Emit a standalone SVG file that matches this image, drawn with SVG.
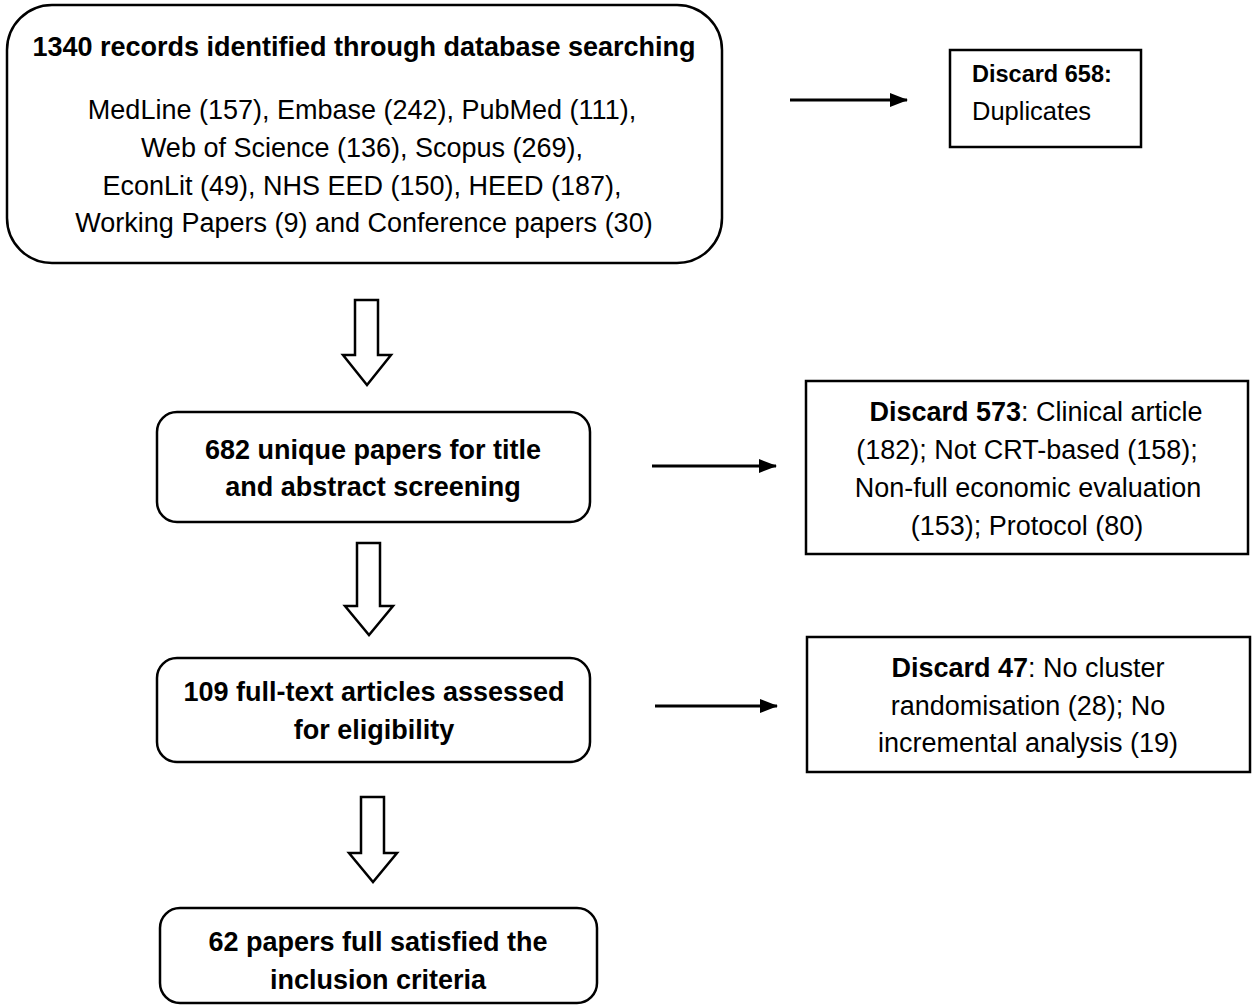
<svg xmlns="http://www.w3.org/2000/svg" width="1254" height="1005" viewBox="0 0 1254 1005">
<defs>
<marker id="ah" markerWidth="18" markerHeight="14" refX="17" refY="7" orient="auto" markerUnits="userSpaceOnUse">
<path d="M0,0 L18,7 L0,14 Z" fill="#000"/>
</marker>
<style>
.box{fill:#fff;stroke:#000;stroke-width:2.5}
.t{font-family:"Liberation Sans",Arial,sans-serif;font-size:27px;fill:#000;text-anchor:middle}
.b{font-weight:bold}
.ln{stroke:#000;stroke-width:3;fill:none}
.blk{fill:#fff;stroke:#000;stroke-width:2.5;stroke-linejoin:miter}
</style>
</defs>
<rect width="1254" height="1005" fill="#fff"/>
<g id="records">
<rect class="box" x="7" y="5" width="715" height="258" rx="45"/>
<text class="t b" x="364" y="56">1340 records identified through database searching</text>
<text class="t" x="362" y="119">MedLine (157), Embase (242), PubMed (111),</text>
<text class="t" x="362" y="157">Web of Science (136), Scopus (269),</text>
<text class="t" x="362" y="195">EconLit (49), NHS EED (150), HEED (187),</text>
<text class="t" x="364" y="232">Working Papers (9) and Conference papers (30)</text>
</g>
<g id="discard658">
<rect class="box" x="950" y="50" width="191" height="97"/>
<text class="t b" x="972" y="82" style="text-anchor:start;font-size:23.5px">Discard 658:</text>
<text class="t" x="972" y="120" style="text-anchor:start;font-size:25.5px">Duplicates</text>
</g>
<g id="screening">
<rect class="box" x="157" y="412" width="433" height="110" rx="20"/>
<text class="t b" x="373" y="459">682 unique papers for title</text>
<text class="t b" x="373" y="496">and abstract screening</text>
</g>
<g id="discard573">
<rect class="box" x="806" y="381" width="442" height="173"/>
<text class="t" x="1036" y="421"><tspan class="b">Discard 573</tspan>: Clinical article</text>
<text class="t" x="1027" y="459">(182); Not CRT-based (158);</text>
<text class="t" x="1028" y="497">Non-full economic evaluation</text>
<text class="t" x="1027" y="535">(153); Protocol (80)</text>
</g>
<g id="fulltext">
<rect class="box" x="157" y="658" width="433" height="104" rx="20"/>
<text class="t b" x="374" y="701">109 full-text articles assessed</text>
<text class="t b" x="374" y="739">for eligibility</text>
</g>
<g id="discard47">
<rect class="box" x="807" y="637" width="443" height="135"/>
<text class="t" x="1028" y="677"><tspan class="b">Discard 47</tspan>: No cluster</text>
<text class="t" x="1028" y="715">randomisation (28); No</text>
<text class="t" x="1028" y="752">incremental analysis (19)</text>
</g>
<g id="included">
<rect class="box" x="160" y="908" width="437" height="95" rx="20"/>
<text class="t b" x="378" y="951">62 papers full satisfied the</text>
<text class="t b" x="378" y="989">inclusion criteria</text>
</g>
<g id="connectors">
<line class="ln" x1="790" y1="100" x2="907" y2="100" marker-end="url(#ah)"/>
<line class="ln" x1="652" y1="466" x2="776" y2="466" marker-end="url(#ah)"/>
<line class="ln" x1="655" y1="706" x2="777" y2="706" marker-end="url(#ah)"/>
<path class="blk" d="M355,300 H378 V355 H391 L367,385 L343,355 H355 Z"/>
<path class="blk" d="M357,543 H380 V606 H393 L369,635 L345,606 H357 Z"/>
<path class="blk" d="M361,797 H384 V853 H397 L373,882 L349,853 H361 Z"/>
</g>
</svg>
